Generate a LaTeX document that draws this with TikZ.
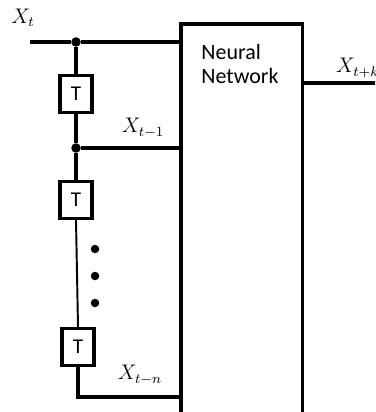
\documentclass[tikz,border=0pt]{standalone}
\usepackage{fontspec}
\setsansfont{Carlito}
\usetikzlibrary{positioning}
\tikzset{
  node-net/.style={draw,line width=2pt,minimum width=2.44cm,minimum height=8.2cm,
    anchor=north west,inner sep=0pt},
  node-text/.style={align=left,font=\sffamily\fontsize{12.5}{13.5}\selectfont},
  node-delay/.style={draw,line width=1.9pt,minimum width=0.64cm,minimum height=0.74cm,
    inner sep=0pt,font=\sffamily\fontsize{12}{13}\selectfont},
  junction/.style={circle,fill,inner sep=0pt,minimum size=0.19cm},
  ellipsis-dot/.style={circle,fill,inner sep=0pt,minimum size=0.17cm},
  wire/.style={line width=2pt},
  wire-thin/.style={line width=1.1pt},
  signal/.style={font=\fontsize{12}{14}\selectfont},
}

\begin{document}
\begin{tikzpicture}[x=0.02cm,y=-0.02cm]
  \clip (0,0) rectangle (375,412);
  % the network block, open at the bottom
  \node[node-net] (nn) at (179,22) {};
  \node[node-text] (nn-text) at (240,64) {Neural\\Network};
  % tapped delay line
  \coordinate (in) at (30,42);
  \node[junction] (j0) at (76,42) {};
  \node[node-delay] (T1) at (76,94) {T};
  \node[junction] (j1) at (76,148) {};
  \node[node-delay] (T2) at (76,200) {T};
  \node[node-delay] (T3) at (78,347) {T};
  \coordinate (corner) at (78,397);
  \foreach \name/\y in {d1/249, d2/276, d3/303}
    \node[ellipsis-dot] (\name) at (95,\y) {};
  \draw[wire] (in) -- (j0) -- (j0 -| nn.west);
  \draw[wire] (j0) -- (T1) -- (j1) -- (T2);
  \draw[wire] (j1) -- (j1 -| nn.west);
  \draw[wire-thin] (T2.south) -- (T3.north);
  \draw[wire] (T3) -- (corner) -- (corner -| nn.west);
  % output
  \coordinate (out) at (380,83);
  \draw[wire] (out -| nn.east) -- (out);
  % signal names
  \node[signal] (x-t) at (23,18) {$X_t$};
  \node[signal] (x-t1) at (143,128) {$X_{t-1}$};
  \node[signal] (x-tn) at (140,375) {$X_{t-n}$};
  \node[signal,anchor=west] (x-tk) at (330,68) {$X_{t+k}$};
\end{tikzpicture}
\end{document}
